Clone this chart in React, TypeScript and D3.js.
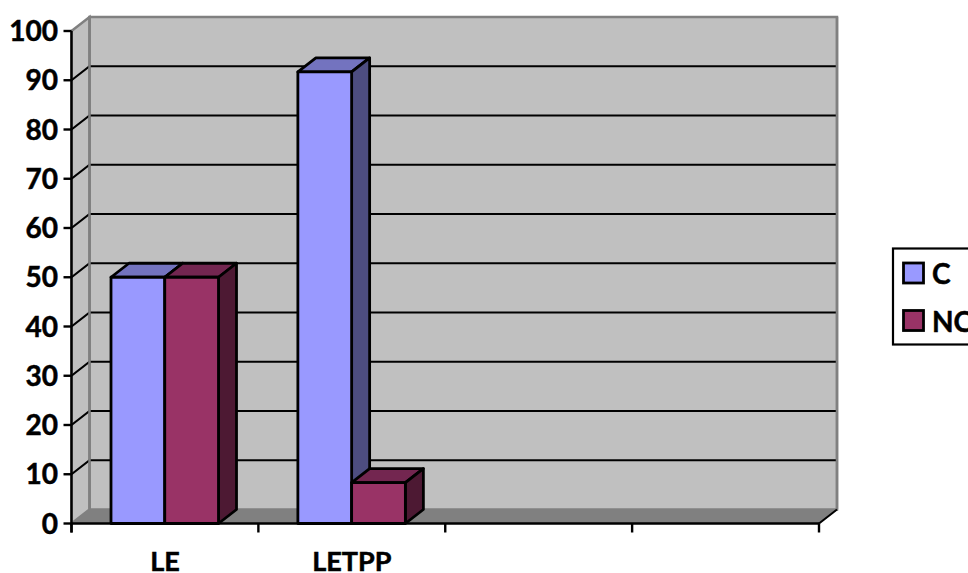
import React from "react";
import * as d3 from "d3";

// Chart values
const categories = ["LE", "LETPP", "", ""];
const seriesNames = ["C", "NC"];
const seriesC = [50, 91.7, null, null];
const seriesNC = [50, 8.3, null, null];
const yTicks = [0, 10, 20, 30, 40, 50, 60, 70, 80, 90, 100];

// Face colours per series: front, top, side
const faces = [
  { front: "#9999FF", top: "#7373BF", side: "#4D4D80" },
  { front: "#993366", top: "#732650", side: "#4D1933" },
];

const FONT = "Lato, Carlito, Calibri, sans-serif";
const depthX = 18;
const depthY = -14;

const x = d3.scaleBand<string>().domain(categories.map((_, i) => String(i))).range([71.5, 819]);
const y = d3.scaleLinear().domain([0, 100]).range([523.5, 31]);
const barPos = d3.scaleBand<string>().domain(seriesNames).range([39.5, 147]);

const poly = (pts: [number, number][]) => d3.line()(pts) + "Z";

const labelStyle = {
  fontFamily: FONT,
  fontWeight: 700,
  fill: "#000",
  stroke: "#000",
  strokeWidth: 0.5,
};

export default function App() {
  const [x0, x1] = x.range() as [number, number];
  const y0 = y(0);
  const y100 = y(100);
  const series = [seriesC, seriesNC];
  const tickXs = categories.map((_, i) => x(String(i)) as number).concat(x1);

  return (
    <svg
      width={968}
      height={573}
      viewBox="0 0 968 573"
      style={{ position: "absolute", left: 0, top: 0, background: "#fff" }}
    >
      {/* Chart walls and floor */}
      <path
        d={poly([[x0 + depthX, y100 + depthY], [x1 + depthX, y100 + depthY], [x1 + depthX, y0 + depthY], [x0 + depthX, y0 + depthY]])}
        fill="#C0C0C0"
        stroke="#808080"
        strokeWidth={2.5}
      />
      <path
        d={poly([[x0, y100], [x0 + depthX, y100 + depthY], [x0 + depthX, y0 + depthY], [x0, y0]])}
        fill="#C0C0C0"
        stroke="#808080"
        strokeWidth={2.5}
      />
      <path
        d={poly([[x0, y0], [x0 + depthX, y0 + depthY], [x1 + depthX, y0 + depthY], [x1, y0]])}
        fill="#808080"
        stroke="#808080"
        strokeWidth={1}
      />

      {/* Gridlines run along the side wall and the back wall */}
      {yTicks.filter((t) => t > 0 && t < 100).map((t) => (
        <path
          key={t}
          d={d3.line()([[x0, y(t)], [x0 + depthX, y(t) + depthY], [x1 + depthX, y(t) + depthY]]) as string}
          fill="none"
          stroke="#000"
          strokeWidth={2.2}
        />
      ))}
      {/* Redraw the wall corners above the gridlines */}
      <line x1={x0 + depthX} x2={x0 + depthX} y1={y100 + depthY} y2={y0 + depthY} stroke="#808080" strokeWidth={2.5} />
      <line x1={x1 + depthX} x2={x1 + depthX} y1={y100 + depthY} y2={y0 + depthY} stroke="#808080" strokeWidth={2.5} />

      {/* Axes */}
      <line x1={x0} x2={x0} y1={y100} y2={y0 + 9} stroke="#000" strokeWidth={2.4} />
      <line x1={x0} x2={x1} y1={y0} y2={y0} stroke="#000" strokeWidth={2.6} />
      <line x1={x1} x2={x1 + depthX} y1={y0} y2={y0 + depthY} stroke="#000" strokeWidth={2} />
      {yTicks.map((t) => (
        <g key={t}>
          <line x1={x0 - 8} x2={x0} y1={y(t)} y2={y(t)} stroke="#000" strokeWidth={2.4} />
          <text x={58} y={y(t)} dy="0.36em" textAnchor="end" fontSize={28} {...labelStyle}>
            {t}
          </text>
        </g>
      ))}
      {tickXs.map((tx) => (
        <line key={tx} x1={tx} x2={tx} y1={y0} y2={y0 + 9} stroke="#000" strokeWidth={2.4} />
      ))}
      {categories.map((c, i) =>
        c ? (
          <text
            key={c}
            x={(x(String(i)) as number) + x.bandwidth() / 2}
            y={570.5}
            textAnchor="middle"
            fontSize={27}
            {...labelStyle}
          >
            {c}
          </text>
        ) : null
      )}

      {/* Extruded columns */}
      {categories.map((_, i) =>
        seriesNames.map((name, s) => {
          const v = series[s][i];
          if (v == null) return null;
          const left = (x(String(i)) as number) + (barPos(name) as number);
          const right = left + barPos.bandwidth();
          const top = y(v);
          const common = { stroke: "#000", strokeWidth: 2.8, strokeLinejoin: "round" as const };
          return (
            <g key={name + i}>
              <path
                d={poly([[left, top], [left + depthX, top + depthY], [right + depthX, top + depthY], [right, top]])}
                fill={faces[s].top}
                {...common}
              />
              <path
                d={poly([[right, top], [right + depthX, top + depthY], [right + depthX, y0 + depthY], [right, y0]])}
                fill={faces[s].side}
                {...common}
              />
              <rect x={left} y={top} width={right - left} height={y0 - top} fill={faces[s].front} {...common} />
            </g>
          );
        })
      )}

      {/* Legend */}
      <rect x={893} y={248.5} width={110} height={96} fill="#fff" stroke="#000" strokeWidth={2.2} />
      {seriesNames.map((name, s) => (
        <g key={name}>
          <rect x={903.5} y={263 + s * 47.5} width={20} height={20} fill={faces[s].front} stroke="#000" strokeWidth={2.8} />
          <text x={932} y={274 + s * 47.5} dy="0.36em" fontSize={28} {...labelStyle}>
            {name}
          </text>
        </g>
      ))}
    </svg>
  );
}
